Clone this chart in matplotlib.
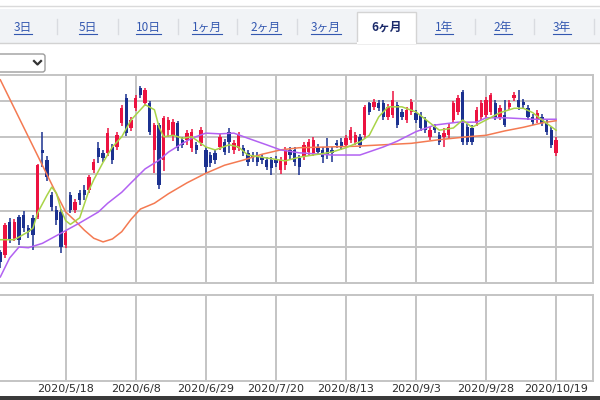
import matplotlib
matplotlib.use("Agg")
import matplotlib.pyplot as plt
from matplotlib.patches import Rectangle, FancyBboxPatch
import numpy as np

plt.rcParams["font.family"] = ["Noto Sans CJK JP", "DejaVu Sans"]

# ------------------------------------------------------------------------------------------
# data

tab_labels = ["3日", "5日", "10日", "1ヶ月", "2ヶ月", "3ヶ月", "6ヶ月", "1年", "2年", "3年"]
selected_tab = "6ヶ月"

date_labels = ["2020/5/18", "2020/6/8", "2020/6/29", "2020/7/20",
               "2020/8/13", "2020/9/3", "2020/9/28", "2020/10/19"]
date_idx = [14, 29, 44, 59, 74, 89, 104, 119]

opens = [993, 989, 1034, 1012, 1041, 1044, 1026, 1040, 1041, 1133,
         1119, 1071, 1051, 1048, 1003, 1071, 1051, 1074, 1078, 1078,
         1105, 1136, 1129, 1129, 1137, 1137, 1170, 1204, 1163, 1190,
         1218, 1197, 1197, 1133, 1167, 1119, 1160, 1153, 1170, 1147,
         1147, 1136, 1140, 1142, 1133, 1126, 1129, 1137, 1144, 1158,
         1133, 1136, 1136, 1129, 1126, 1126, 1123, 1119, 1119, 1119,
         1105, 1112, 1133, 1133, 1122, 1123, 1130, 1129, 1137, 1133,
         1136, 1133, 1142, 1144, 1140, 1147, 1144, 1151, 1153, 1197,
         1192, 1197, 1197, 1178, 1181, 1195, 1185, 1174, 1185, 1184,
         1181, 1174, 1151, 1164, 1153, 1151, 1153, 1174, 1185, 1212,
         1164, 1163, 1170, 1178, 1181, 1185, 1197, 1178, 1181, 1192,
         1204, 1201, 1199, 1190, 1178, 1174, 1178, 1171, 1160, 1129]
closes = [979, 1030, 1010, 1034, 1010, 1026, 1021, 1016, 1112, 1129,
          1096, 1055, 1037, 1000, 1019, 1051, 1062, 1064, 1071, 1096,
          1116, 1123, 1122, 1156, 1119, 1153, 1190, 1156, 1174, 1204,
          1208, 1215, 1158, 1167, 1085, 1177, 1174, 1171, 1136, 1140,
          1156, 1158, 1133, 1160, 1110, 1115, 1119, 1151, 1130, 1144,
          1142, 1153, 1129, 1116, 1122, 1116, 1119, 1110, 1108, 1115,
          1119, 1133, 1126, 1116, 1110, 1140, 1144, 1147, 1130, 1123,
          1126, 1129, 1140, 1137, 1149, 1160, 1153, 1140, 1192, 1185,
          1199, 1190, 1178, 1192, 1201, 1167, 1178, 1188, 1199, 1174,
          1163, 1160, 1160, 1160, 1144, 1156, 1164, 1197, 1204, 1144,
          1144, 1144, 1188, 1197, 1201, 1208, 1178, 1190, 1167, 1197,
          1208, 1192, 1195, 1178, 1171, 1184, 1170, 1158, 1140, 1147]
highs = [996, 1033, 1040, 1038, 1044, 1050, 1030, 1044, 1114, 1158,
         1124, 1076, 1056, 1052, 1022, 1076, 1066, 1078, 1085, 1099,
         1120, 1144, 1133, 1163, 1141, 1157, 1194, 1210, 1178, 1208,
         1221, 1218, 1200, 1170, 1170, 1180, 1178, 1175, 1173, 1151,
         1160, 1162, 1144, 1164, 1137, 1130, 1133, 1155, 1148, 1163,
         1146, 1157, 1140, 1133, 1130, 1130, 1128, 1123, 1123, 1124,
         1123, 1137, 1137, 1137, 1126, 1144, 1148, 1151, 1141, 1137,
         1149, 1137, 1146, 1149, 1153, 1164, 1157, 1155, 1195, 1199,
         1203, 1201, 1201, 1196, 1214, 1199, 1189, 1192, 1203, 1188,
         1185, 1178, 1164, 1168, 1157, 1163, 1168, 1200, 1208, 1215,
         1168, 1167, 1192, 1201, 1205, 1211, 1201, 1194, 1201, 1201,
         1212, 1215, 1203, 1194, 1182, 1188, 1182, 1175, 1164, 1150]
lows = [971, 985, 1005, 1008, 1003, 1020, 1012, 996, 1038, 1110,
        1090, 1050, 1030, 992, 998, 1046, 1047, 1058, 1064, 1074,
        1101, 1115, 1117, 1124, 1114, 1133, 1166, 1152, 1159, 1186,
        1204, 1193, 1154, 1101, 1080, 1104, 1150, 1145, 1132, 1136,
        1140, 1130, 1128, 1138, 1101, 1110, 1114, 1133, 1126, 1129,
        1128, 1132, 1124, 1111, 1117, 1111, 1114, 1105, 1099, 1110,
        1100, 1105, 1121, 1111, 1099, 1119, 1126, 1125, 1126, 1115,
        1121, 1116, 1136, 1133, 1136, 1143, 1140, 1136, 1149, 1181,
        1188, 1186, 1174, 1174, 1177, 1163, 1174, 1170, 1181, 1170,
        1159, 1156, 1147, 1156, 1140, 1137, 1149, 1170, 1181, 1140,
        1140, 1140, 1166, 1174, 1177, 1181, 1174, 1174, 1164, 1188,
        1200, 1188, 1191, 1174, 1167, 1170, 1166, 1154, 1136, 1124]

# moving averages, read at a few candles each
ma5_idx = [0, 3, 6, 7, 8, 10, 11, 12, 13, 14, 15, 17, 19, 20, 22, 24, 26, 28, 30, 31,
           33, 34, 35, 37, 39, 41, 44, 46, 49, 51, 53, 56, 58, 61, 64, 67, 71, 74, 77, 79,
           81, 83, 86, 89, 92, 94, 97, 99, 101, 104, 107, 110, 112, 114, 116, 119]
ma5_val = [1010, 1010, 1021, 1026, 1047, 1071, 1082, 1074, 1051, 1036, 1031, 1040, 1078, 1092, 1116,
           1137, 1151, 1174, 1188, 1195, 1188, 1164, 1151, 1153, 1149, 1151, 1137, 1133, 1140, 1137,
           1126, 1123, 1121, 1118, 1123, 1126, 1130, 1136, 1144, 1153, 1178, 1192, 1192, 1185, 1170,
           1160, 1163, 1174, 1164, 1174, 1184, 1190, 1190, 1184, 1174, 1160]
ma25_idx = [0, 2, 4, 6, 9, 13, 17, 21, 23, 26, 28, 31, 34, 36, 39, 41, 44, 47, 50, 53,
            57, 60, 64, 71, 77, 82, 85, 89, 93, 98, 102, 104, 108, 114, 119]
ma25_val = [959, 985, 1000, 999, 1005, 1019, 1033, 1048, 1060, 1075, 1088, 1107, 1119, 1130, 1142,
            1149, 1156, 1155, 1156, 1149, 1140, 1133, 1129, 1126, 1126, 1137, 1145, 1158, 1167, 1171,
            1171, 1177, 1177, 1175, 1175]
ma75_idx = [0, 3, 6, 9, 12, 14, 16, 18, 20, 22, 24, 26, 28, 30, 33, 36, 40, 44, 48, 52,
            56, 60, 64, 70, 76, 82, 88, 94, 100, 104, 108, 112, 116, 119]
ma75_val = [1229, 1190, 1151, 1112, 1073, 1048, 1036, 1023, 1012, 1007, 1011, 1021, 1038, 1052, 1060,
            1073, 1088, 1101, 1112, 1119, 1127, 1133, 1136, 1137, 1138, 1140, 1142, 1147, 1151, 1153,
            1159, 1164, 1170, 1173]

# ------------------------------------------------------------------------------------------
RED = "#ec1240"
BLUE = "#1b3190"
GRID = "#c4c4c4"

fig = plt.figure(figsize=(6, 4), dpi=100)

# page chrome in pixel coordinates
ui = fig.add_axes([0, 0, 1, 1], zorder=0)
ui.set_xlim(0, 600)
ui.set_ylim(400, 0)
ui.axis("off")

ui.plot([0, 600], [5.5, 5.5], color="#dadada", lw=1)
ui.add_patch(Rectangle((0, 9), 600, 33.5, fc="#f1f3f6", ec="none"))
ui.plot([0, 600], [42.5, 42.5], color="#d2d2d2", lw=1)

tab_x = [23, 88, 148, 207, 266, 326, 387, 444, 503, 562]
for sx in [57, 118, 178, 237, 297, 475, 534, 594]:
    ui.plot([sx, sx], [19, 34], color="#d9dbe0", lw=1)
ui.add_patch(Rectangle((357, 11.5), 59, 31.5, fc="white", ec="#d4d4d4", lw=1))
ui.plot([357.6, 415.4], [42.5, 42.5], color="white", lw=1.5)

tab_texts = []
for lbl, tx in zip(tab_labels, tab_x):
    sel = lbl == selected_tab
    t = ui.text(tx, 27, lbl, ha="center", va="center", fontsize=8.5,
                color="#1b2a6a" if sel else "#3458b0",
                fontweight="bold" if sel else "normal")
    if not sel:
        tab_texts.append(t)

ui.add_patch(FancyBboxPatch((-3, 54), 48, 18, boxstyle="round,pad=0,rounding_size=2.5",
                            fc="white", ec="#9c9c9c", lw=1))
ui.plot([34, 37.5, 41], [61, 64.5, 61], color="#333333", lw=1.6)

ui.add_patch(Rectangle((0, 396), 600, 4, fc="#3a3a3a", ec="none"))

# ------------------------------------------------------------------------------------------
# price chart
x = np.arange(len(opens))
o = np.array(opens)
c = np.array(closes)
up = c >= o
colors = np.where(up, RED, BLUE)

ax = fig.add_axes([0, 117 / 400, 593 / 600, 208 / 400], zorder=2)
ax.vlines(x, lows, highs, colors=colors, lw=1.1, zorder=3)
ax.bar(x, np.maximum(np.abs(c - o), 1.5), bottom=np.minimum(o, c), width=0.72,
       color=colors, lw=0, zorder=4)
ax.plot(ma75_idx, ma75_val, color="#f47a52", lw=1.1, zorder=5)
ax.plot(ma25_idx, ma25_val, color="#b262f2", lw=1.1, zorder=5)
ax.plot(ma5_idx, ma5_val, color="#a9d448", lw=1.1, zorder=5)

ax.set_xlim(-0.07, 126.9)
ax.set_ylim(950.7, 1235.6)
ax.set_xticks(date_idx)
ax.set_yticks([1000, 1050, 1100, 1150, 1200])
ax.tick_params(length=0, labelbottom=False, labelleft=False)
ax.grid(True, color=GRID, lw=1.4)
ax.set_axisbelow(True)
for side, sp in ax.spines.items():
    sp.set_color(GRID)
    sp.set_linewidth(1.4)
ax.spines["left"].set_visible(False)

# lower (empty) panel
ax2 = fig.add_axes([0, 19 / 400, 593 / 600, 86 / 400], zorder=2)
ax2.set_xlim(-0.07, 126.9)
ax2.set_xticks(date_idx)
ax2.set_xticklabels(date_labels, fontsize=8, color="#2e2e2e", family="DejaVu Sans")
ax2.set_yticks([])
ax2.tick_params(length=0, pad=2.5)
ax2.grid(True, axis="x", color=GRID, lw=1.4)
for side, sp in ax2.spines.items():
    sp.set_color(GRID)
    sp.set_linewidth(1.4)
ax2.spines["left"].set_visible(False)

# underline the tab links
fig.canvas.draw()
rend = fig.canvas.get_renderer()
for t in tab_texts:
    bb = t.get_window_extent(rend)
    ui.plot([bb.x0, bb.x1], [34, 34], color="#3458b0", lw=0.8)

fig.savefig("out.png", dpi=100)
